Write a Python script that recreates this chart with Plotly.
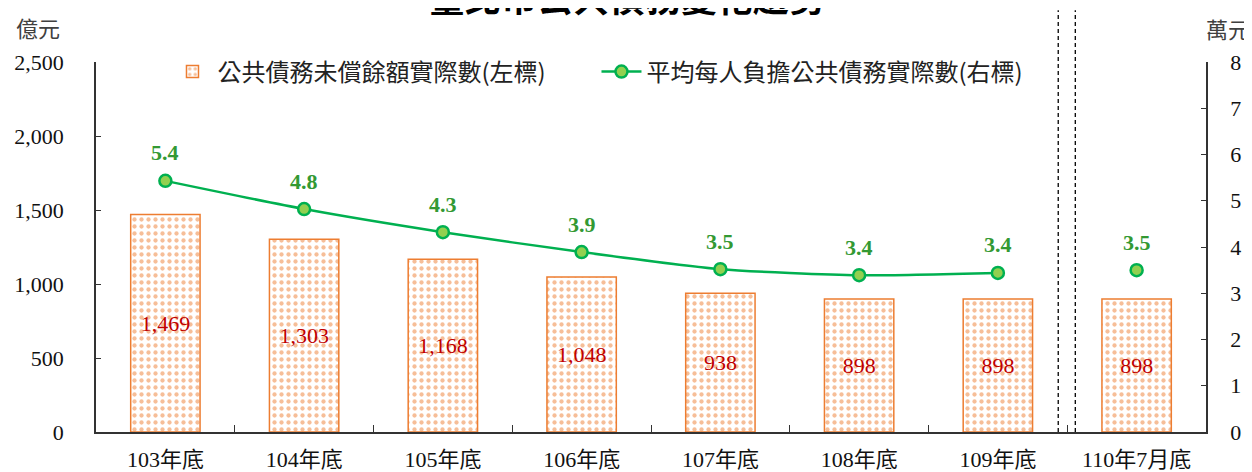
import plotly.graph_objects as go

categories = ["103年底", "104年底", "105年底", "106年底", "107年底", "108年底", "109年底", "110年7月底"]
debt = [1469, 1303, 1168, 1048, 938, 898, 898, 898]
per_capita = [5.43, 4.82, 4.32, 3.89, 3.52, 3.39, 3.44, 3.50]
per_capita_labels = ["5.4", "4.8", "4.3", "3.9", "3.5", "3.4", "3.4", "3.5"]
bar_name = "公共債務未償餘額實際數(左標)"
line_name = "平均每人負擔公共債務實際數(右標)"
title_text = "臺北市公共債務變化趨勢"

ORANGE = "#ED7D31"
GREEN = "#00B050"
LGREEN = "#92D050"
TGREEN = "#339933"
RED = "#C00000"
SERIF = "Liberation Serif, Times New Roman, Noto Sans CJK TC, serif"
SANS = "Noto Sans CJK TC, sans-serif"

fig = go.Figure()
fig.add_trace(go.Bar(
    x=categories, y=debt, name=bar_name, width=0.5,
    marker=dict(color="white", line=dict(color=ORANGE, width=1.5),
                pattern=dict(shape=".", fgcolor=ORANGE, bgcolor="white", size=7, solidity=0.3)),
    text=[f"{v:,}" for v in debt], textposition="inside", insidetextanchor="middle",
    textangle=0, textfont=dict(family=SERIF, size=22, color=RED),
    hoverinfo="skip",
))
n_line = 7
fig.add_trace(go.Scatter(
    x=categories[:n_line], y=per_capita[:n_line], name=line_name, yaxis="y2",
    mode="lines+markers", line=dict(color=GREEN, width=2.5, shape="spline", smoothing=0.6),
    marker=dict(size=12, color=LGREEN, line=dict(color=GREEN, width=2.5)),
    hoverinfo="skip",
))
fig.add_trace(go.Scatter(
    x=categories[n_line:], y=per_capita[n_line:], name=line_name, yaxis="y2", showlegend=False,
    mode="markers",
    marker=dict(size=12, color=LGREEN, line=dict(color=GREEN, width=2.5)),
    hoverinfo="skip",
))
for c, v, lab in zip(categories, per_capita, per_capita_labels):
    fig.add_annotation(x=c, y=v, xref="x", yref="y2", text=f"<b>{lab}</b>", showarrow=False,
                       yshift=28, font=dict(family=SERIF, size=22, color=TGREEN))

# dashed separators between 109 and 110
for dx in (-0.065, 0.058):
    fig.add_shape(type="line", xref="x", yref="paper", x0=6.5 + dx, x1=6.5 + dx, y0=0, y1=1.14,
                  line=dict(color="black", width=1.3, dash="4px,3px"))

fig.add_annotation(text=title_text, xref="paper", yref="paper", x=0.478, y=1.178,
                   xanchor="center", yanchor="middle", showarrow=False,
                   font=dict(family=SANS, size=36, color="black", weight="bold"))
fig.add_annotation(text="億元", xref="paper", yref="paper", x=-0.052, y=1.087,
                   xanchor="center", yanchor="middle", showarrow=False,
                   font=dict(family=SERIF, size=22, color="#404040"))
fig.add_annotation(text="萬元", xref="paper", yref="paper", x=1.0198, y=1.084,
                   xanchor="center", yanchor="middle", showarrow=False,
                   font=dict(family=SERIF, size=22, color="#404040"))

# the page body adds an 8px offset; margins compensate so the plot lands where the reference has it
fig.update_layout(
    width=1252, height=472,
    margin=dict(l=88, r=54, t=54, b=48, autoexpand=False),
    paper_bgcolor="white", plot_bgcolor="white",
    showlegend=True,
    legend=dict(orientation="h", x=0.0644, y=0.973, xanchor="left", yanchor="middle",
                font=dict(family=SANS, size=24, color="#222222"), bgcolor="rgba(0,0,0,0)",
                entrywidth=374, itemwidth=40),
    xaxis=dict(type="category", range=[-0.5, 7.5], tickson="boundaries", ticks="inside",
               ticklen=7, tickcolor="#333333", showline=True, linecolor="#333333", linewidth=1.5,
               showgrid=False, tickfont=dict(family=SERIF, size=22, color="#111111"),
               ticklabelstandoff=7, automargin=False),
    yaxis=dict(range=[0, 2500], dtick=500, tickformat=",", ticks="inside", ticklen=5,
               tickcolor="#333333", showline=True, linecolor="#333333", linewidth=1.5,
               showgrid=False, zeroline=False, tickfont=dict(family=SERIF, size=22, color="#111111"),
               ticklabelstandoff=26, automargin=False),
    yaxis2=dict(range=[0, 8], dtick=1, overlaying="y", side="right", ticks="inside", ticklen=5,
                tickcolor="#333333", showline=True, linecolor="#333333", linewidth=1.5,
                showgrid=False, zeroline=False, tickfont=dict(family=SERIF, size=22, color="#111111"),
                ticklabelstandoff=18, automargin=False),
)

fig.write_html("out.html")
